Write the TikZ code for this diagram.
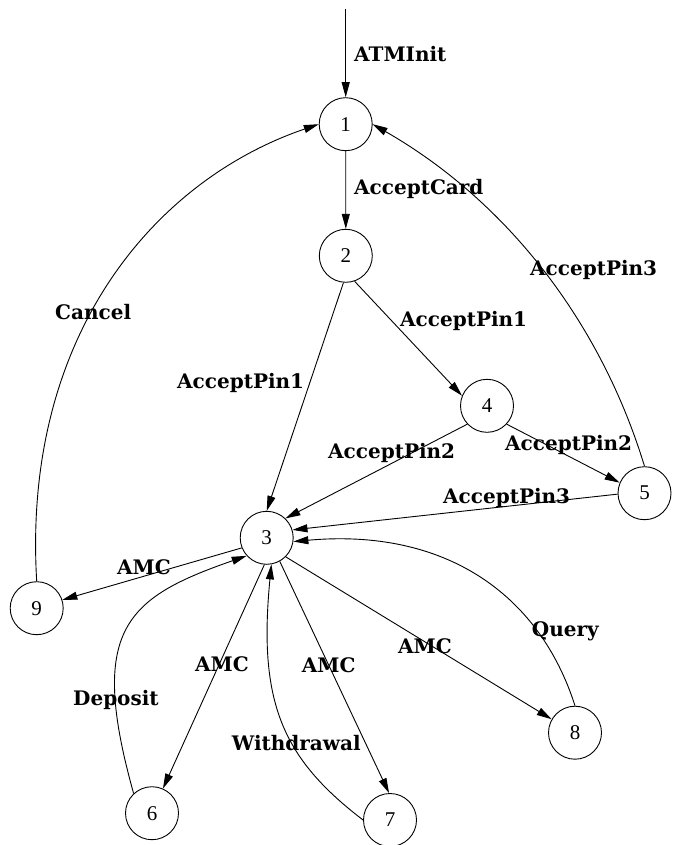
\documentclass[tikz,border=0pt]{standalone}
\usepackage{fontspec}
\setmainfont{Liberation Serif}
\newfontfamily\lblfont{DejaVu Serif}
\usetikzlibrary{arrows.meta}
\begin{document}
\begin{tikzpicture}[x=1pt,y=-1pt,
  state/.style={circle,draw,line width=0.9pt,minimum size=53pt,inner sep=0pt,font=\fontsize{21}{24}\selectfont},
  lbl/.style={anchor=base west,inner sep=0pt,font=\lblfont\bfseries\fontsize{20}{24}\selectfont},
  edge/.style={line width=0.9pt,-{Triangle[length=15pt,width=8pt]}}]
\useasboundingbox (0,0) rectangle (687,845);
% states
\node[state] (n1) at (345.7,124.2) {1};
\node[state] (n2) at (345.8,255.8) {2};
\node[state] (n3) at (266.7,537.8) {3};
\node[state] (n4) at (487,405.8) {4};
\node[state] (n5) at (644.5,493.2) {5};
\node[state] (n6) at (152,813.2) {6};
\node[state] (n7) at (390,820) {7};
\node[state] (n8) at (575,732.7) {8};
\node[state] (n9) at (36.7,608.2) {9};
\coordinate (init) at (345.7,9);
% edges
\draw[edge] (init) -- (n1.north);
\draw[edge] (n1.south) -- (n2.north);
\draw[edge] (n2.-71.6) -- (n4.158.5);
\draw[edge] (n2.265) -- (n3.north);
\draw[edge] (n4.223.7) -- (n3.46.4);
\draw[edge] (n4.-43.5) -- (n5.157);
\draw[edge] (n5.182) -- (n3.17.8);
\draw[edge] (n5.north) .. controls (600,320) and (505,200) .. (n1.east);
\draw[edge] (n9.north) .. controls (22,335) and (155,180) .. (n1.west);
\draw[edge] (n3.202.8) -- (n9.18.4);
\draw[edge] (n6.133) .. controls (88,630) and (125,598) .. (n3.222);
\draw[edge] (n3.265) -- (n6.66.5);
\draw[edge] (n3.-61) -- (n7.92);
\draw[edge] (n7.west) .. controls (282,758) and (258,702) .. (n3.280);
\draw[edge] (n3.-45) -- (n8.150);
\draw[edge] (n8.north) .. controls (539,593) and (444,528) .. (n3.352);
% labels
\node[lbl] (lATM) at (354,62) {ATMInit};
\node[lbl] (lAC) at (354,194.3) {AcceptCard};
\node[lbl] (lP1a) at (400,326.7) {AcceptPin1};
\node[lbl] (lP1b) at (177,388) {AcceptPin1};
\node[lbl] (lP2a) at (328,458) {AcceptPin2};
\node[lbl] (lP2b) at (505,450) {AcceptPin2};
\node[lbl] (lP3a) at (443,503) {AcceptPin3};
\node[lbl] (lP3b) at (530,275) {AcceptPin3};
\node[lbl] (lCancel) at (55,319) {Cancel};
\node[lbl] (lAMC9) at (117,574) {AMC};
\node[lbl] (lDep) at (73,705.7) {Deposit};
\node[lbl] (lAMC6) at (195,671.7) {AMC};
\node[lbl] (lAMC7) at (301.7,672) {AMC};
\node[lbl] (lWd) at (231.7,750) {Withdrawal};
\node[lbl] (lAMC8) at (398,653) {AMC};
\node[lbl] (lQuery) at (531.7,636) {Query};
\end{tikzpicture}
\end{document}
